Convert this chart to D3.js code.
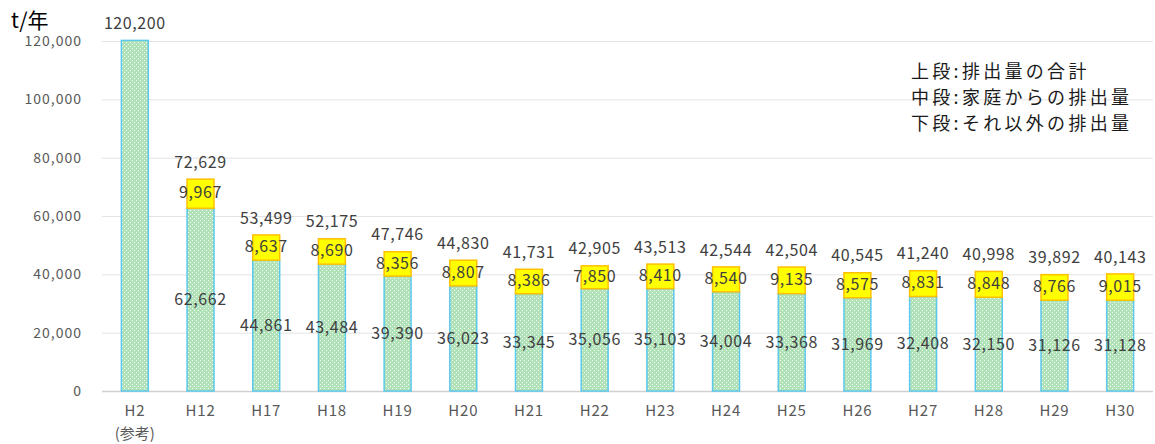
<!DOCTYPE html>
<html>
<head>
<meta charset="utf-8">
<script src="https://cdn.jsdelivr.net/npm/d3@7"></script>
<style>
  body { margin: 0; background: #fff; }
  svg { display: block; font-family: "Noto Sans CJK JP", "Noto Sans", sans-serif; }
</style>
</head>
<body>
<svg id="chart" width="1155" height="444"></svg>
<script>
const years = ["H2", "H12", "H17", "H18", "H19", "H20", "H21", "H22", "H23", "H24", "H25", "H26", "H27", "H28", "H29", "H30"]
const others = [120200, 62662, 44861, 43484, 39390, 36023, 33345, 35056, 35103, 34004, 33368, 31969, 32408, 32150, 31126, 31128]
const household = [0, 9967, 8637, 8690, 8356, 8807, 8386, 7850, 8410, 8540, 9135, 8575, 8831, 8848, 8766, 9015]
const totals = [120200, 72629, 53499, 52175, 47746, 44830, 41731, 42905, 43513, 42544, 42504, 40545, 41240, 40998, 39892, 40143]
const yTicks = [0, 20000, 40000, 60000, 80000, 100000, 120000]
const legendLines = ["上段:排出量の合計", "中段:家庭からの排出量", "下段:それ以外の排出量"]

const svg = d3.select("#chart")
const fmt = d3.format(",")

const x = d3.scaleBand().domain(years).range([102, 1153]).paddingInner(0.59).paddingOuter(0.295)
const y = d3.scaleLinear().domain([0, 120000]).range([391, 41])

// dotted green fill
const defs = svg.append("defs")
const pat = defs.append("pattern").attr("id", "dots").attr("patternUnits", "userSpaceOnUse")
                .attr("width", 4).attr("height", 4)
pat.append("rect").attr("width", 4).attr("height", 4).attr("fill", "#b0e2b8")
pat.append("rect").attr("x", 0).attr("y", 0).attr("width", 1).attr("height", 1).attr("fill", "#ffffff")
pat.append("rect").attr("x", 2).attr("y", 2).attr("width", 1).attr("height", 1).attr("fill", "#ffffff")

// grid
svg.append("g").selectAll("line")
   .data(yTicks)
   .enter()
   .append("line")
   .attr("x1", 102).attr("x2", 1153)
   .attr("y1", d => y(d) + 0.5).attr("y2", d => y(d) + 0.5)
   .attr("stroke", d => d === 0 ? "#d0d0d0" : "#e3e3e3")
   .attr("stroke-width", d => d === 0 ? 1.5 : 1)

// y axis labels
svg.append("g").selectAll("text")
   .data(yTicks)
   .enter()
   .append("text")
   .attr("x", 82)
   .attr("y", d => y(d))
   .attr("dy", "0.35em")
   .attr("text-anchor", "end")
   .attr("font-size", 14)
   .attr("letter-spacing", 1)
   .attr("fill", "#595959")
   .text(d => fmt(d))

svg.append("text").attr("x", 11).attr("y", 28).attr("font-size", 21).attr("fill", "#000").text("t/年")

// x labels
const xl = svg.append("g")
xl.selectAll("text")
  .data(years)
  .enter()
  .append("text")
  .attr("x", d => x(d) + x.bandwidth() / 2)
  .attr("y", 416)
  .attr("text-anchor", "middle")
  .attr("font-size", 15)
  .attr("letter-spacing", 0.8)
  .attr("fill", "#595959")
  .text(d => d)
xl.append("text")
  .attr("x", x("H2") + x.bandwidth() / 2)
  .attr("y", 439)
  .attr("text-anchor", "middle")
  .attr("font-size", 15)
  .attr("fill", "#595959")
  .text("(参考)")

const idx = d3.range(years.length)

// bottom segment
svg.append("g").selectAll("rect")
   .data(idx)
   .enter()
   .append("rect")
   .attr("x", i => x(years[i]))
   .attr("y", i => y(others[i]))
   .attr("width", x.bandwidth())
   .attr("height", i => y(0) - y(others[i]))
   .attr("fill", "url(#dots)")
   .attr("stroke", "#5bc8ec")
   .attr("stroke-width", 1.5)

// household segment
svg.append("g").selectAll("rect")
   .data(idx.filter(i => household[i] > 0))
   .enter()
   .append("rect")
   .attr("x", i => x(years[i]))
   .attr("y", i => y(others[i] + household[i]))
   .attr("width", x.bandwidth())
   .attr("height", i => y(others[i]) - y(others[i] + household[i]))
   .attr("fill", "#ffff00")
   .attr("stroke", "#ffc000")
   .attr("stroke-width", 1.5)

const labels = svg.append("g").attr("font-size", 16).attr("letter-spacing", 0.6)
                  .attr("fill", "#404040").attr("text-anchor", "middle")

labels.selectAll(".tot")
      .data(idx)
      .enter()
      .append("text")
      .attr("class", "tot")
      .attr("x", i => x(years[i]) + x.bandwidth() / 2)
      .attr("y", i => y(totals[i]) - 17)
      .attr("dy", "0.35em")
      .text(i => fmt(totals[i]))

labels.selectAll(".hh")
      .data(idx.filter(i => household[i] > 0))
      .enter()
      .append("text")
      .attr("class", "hh")
      .attr("x", i => x(years[i]) + x.bandwidth() / 2)
      .attr("y", i => y(others[i] + household[i] / 2) - 1)
      .attr("dy", "0.35em")
      .text(i => fmt(household[i]))

labels.selectAll(".oth")
      .data(idx.filter(i => household[i] > 0))
      .enter()
      .append("text")
      .attr("class", "oth")
      .attr("x", i => x(years[i]) + x.bandwidth() / 2)
      .attr("y", i => y(others[i] / 2))
      .attr("dy", "0.35em")
      .text(i => fmt(others[i]))

// note
svg.append("g").selectAll("text")
   .data(legendLines)
   .enter()
   .append("text")
   .attr("x", 911)
   .attr("y", (d, i) => 72 + i * 26)
   .attr("dy", "0.35em")
   .attr("font-size", 18)
   .attr("letter-spacing", 3.3)
   .attr("fill", "#1a1a1a")
   .text(d => d)
</script>
</body>
</html>
